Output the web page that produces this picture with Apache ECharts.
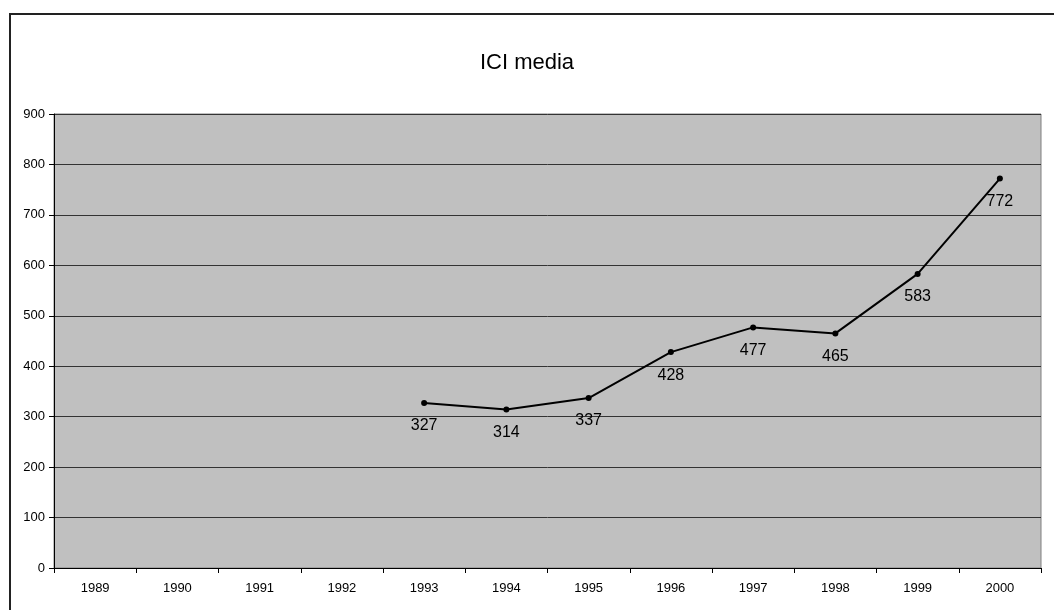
<!DOCTYPE html>
<html>
<head>
<meta charset="utf-8">
<script src="https://cdn.jsdelivr.net/npm/echarts@6/dist/echarts.min.js"></script>
<style>
  html, body { margin: 0; padding: 0; background: #fff; }
  #frame { position: absolute; left: 9px; top: 13px; width: 1060px; height: 620px; border-left: 2px solid #222; border-top: 2px solid #222; }
  #chart { position: absolute; left: 0; top: 0; width: 1054px; height: 610px; }
  body { overflow: hidden; width: 1054px; height: 610px; }
</style>
</head>
<body>
<div id="frame"></div>
<div id="chart"></div>
<script>
const years = ["1989", "1990", "1991", "1992", "1993", "1994", "1995", "1996", "1997", "1998", "1999", "2000"];
const mediaValues = [null, null, null, null, 327, 314, 337, 428, 477, 465, 583, 772];
const yTicks = [0, 100, 200, 300, 400, 500, 600, 700, 800, 900];

const chart = echarts.init(document.getElementById("chart"));

const option = {
  animation: false,
  title: {
    text: "ICI media",
    left: "center",
    top: 47,
    textStyle: { fontFamily: "Liberation Sans", fontSize: 22, fontWeight: "normal", color: "#000" },
  },
  grid: { left: 54, right: 13, top: 114, bottom: 42, show: true, backgroundColor: "#c0c0c0", borderColor: "#808080", borderWidth: 1 },
  xAxis: {
    type: "category",
    data: years,
    boundaryGap: true,
    axisLine: { lineStyle: { color: "#000", width: 1 } },
    axisTick: { show: true, alignWithLabel: false, length: 5, lineStyle: { color: "#000" } },
    axisLabel: { fontFamily: "Liberation Sans", fontSize: 13, color: "#000", margin: 14 },
  },
  yAxis: {
    type: "value",
    min: yTicks[0],
    max: yTicks[yTicks.length - 1],
    interval: 100,
    axisLine: { show: true, lineStyle: { color: "#000", width: 1 } },
    axisTick: { show: true, length: 5, lineStyle: { color: "#000" } },
    axisLabel: { fontFamily: "Liberation Sans", fontSize: 13, color: "#000", margin: 9 },
    splitLine: { show: true, lineStyle: { color: "#333", width: 1 } },
  },
  series: [
    {
      name: "ICI media",
      type: "line",
      data: mediaValues,
      symbol: "circle",
      symbolSize: 6,
      itemStyle: { color: "#000" },
      lineStyle: { color: "#000", width: 2 },
      label: {
        show: true,
        position: "bottom",
        distance: 12,
        fontFamily: "Liberation Sans",
        fontSize: 16,
        color: "#000",
      },
    },
  ],
};

chart.setOption(option);
</script>
</body>
</html>
